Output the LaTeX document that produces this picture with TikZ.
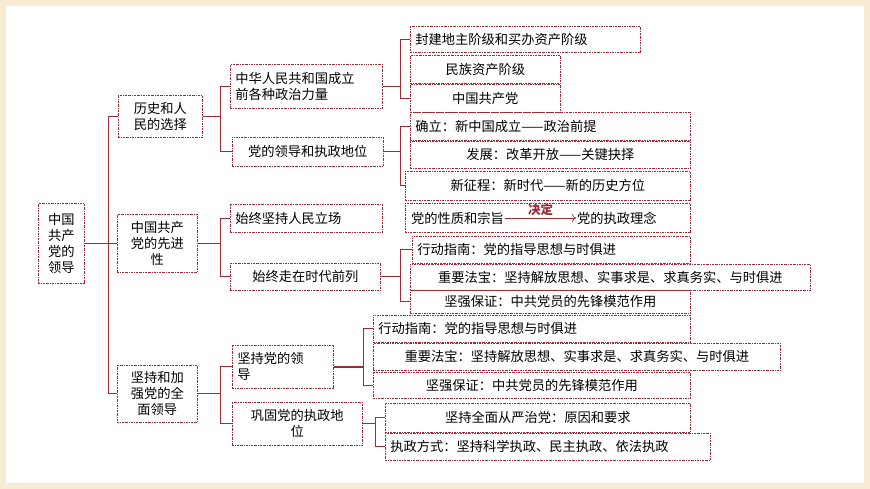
\documentclass[tikz,border=0pt]{standalone}
\usepackage{fontspec}
\usetikzlibrary{arrows.meta}
\newfontfamily\cjk{Noto Sans CJK SC}
\definecolor{dred}{HTML}{9E2A36}
\definecolor{cream}{HTML}{F7EBD3}
\tikzset{
 bx/.style={draw=dred, line width=0.6pt, dash pattern=on 2pt off 1pt on 0.6pt off 1pt, inner sep=0pt, font=\cjk\fontsize{13.3}{16}\selectfont, anchor=north west},
 ln/.style={draw=dred, line width=0.8pt},
}
\newcommand\bxn[7]{% name x y w h align text
 \pgfmathsetmacro\tw{#4-10}
 \node[bx, minimum width=#4bp, minimum height=#5bp, text width=\tw bp, align=#6] (#1) at (#2,#3) {#7};}
\begin{document}
\begin{tikzpicture}[x=1bp,y=-1bp]
\fill[cream] (0,0) rectangle (870,489);
\fill[white] (6,6) rectangle (864,483);
\useasboundingbox (0,0) rectangle (870,489);
\bxn{root}{38}{203}{46}{80}{center}{中国\\共产\\党的\\领导}
\bxn{a}{118}{95}{84}{42}{center}{历史和人\\民的选择}
\bxn{b}{117}{214}{80}{58}{center}{中国共产\\党的先进\\性}
\bxn{c}{117}{365}{80}{57}{center}{坚持和加\\强党的全\\面领导}
\bxn{a1}{230}{64}{152}{44}{left}{中华人民共和国成立\\前各种政治力量}
\bxn{a2}{232}{137}{151}{29}{center}{党的领导和执政地位}
\bxn{b1}{230}{204}{152}{28}{left}{始终坚持人民立场}
\bxn{b2}{230}{263}{150}{27}{center}{始终走在时代前列}
\bxn{c1}{232}{345}{101}{43}{left}{坚持党的领\\导}
\bxn{c2}{232}{402}{130}{43}{center}{巩固党的执政地\\位}
\bxn{a11}{410}{26}{230}{26}{left}{封建地主阶级和买办资产阶级}
\bxn{a12}{410}{55}{150}{28}{center}{民族资产阶级}
\bxn{a13}{410}{84}{150}{28}{center}{中国共产党}
\bxn{a21}{410}{112}{280}{28}{left}{确立：新中国成立——政治前提}
\bxn{a22}{410}{141}{280}{27}{center}{发展：改革开放——关键抉择}
\bxn{a23}{405}{171}{285}{29}{center}{新征程：新时代——新的历史方位}
\bxn{n}{405}{203}{285}{29}{left}{}
\node[font=\cjk\fontsize{13.3}{16}\selectfont, anchor=west, inner sep=1pt] (n1) at (410,218) {党的性质和宗旨};
\node[font=\cjk\fontsize{13.3}{16}\selectfont, anchor=west, inner sep=1pt] (n2) at (576,218) {党的执政理念};
\draw[dred, line width=0.7pt, -{To[length=4pt]}] (n1.east) -- node[above, text=dred, font=\cjk\bfseries\fontsize{12.5}{14}\selectfont, inner sep=1pt, yshift=1pt]{决定} (n2.west);
\bxn{b21}{412}{236}{278}{27}{left}{行动指南：党的指导思想与时俱进}
\bxn{b22}{410}{264}{400}{26}{center}{重要法宝：坚持解放思想、实事求是、求真务实、与时俱进}
\bxn{b23}{410}{290}{280}{23}{center}{坚强保证：中共党员的先锋模范作用}
\bxn{c11}{373}{315}{317}{27}{left}{行动指南：党的指导思想与时俱进}
\bxn{c12}{373}{343}{407}{27}{center}{重要法宝：坚持解放思想、实事求是、求真务实、与时俱进}
\bxn{c13}{373}{372}{317}{26}{center}{坚强保证：中共党员的先锋模范作用}
\bxn{c21}{385}{403}{305}{29}{center}{坚持全面从严治党：原因和要求}
\bxn{c22}{385}{433}{325}{27}{left}{执政方式：坚持科学执政、民主执政、依法执政}
% connectors
\coordinate (X0) at (108,0);
\draw[ln] (root.east) -- (root.east -| X0);
\draw[ln] (a.west) -- (a.west -| X0) -- (c.west -| X0) -- (c.west);
\draw[ln] (b.west) -- (b.west -| X0);
\coordinate (X1) at (220,0);
\draw[ln] (a.east) -- (a.east -| X1);
\draw[ln] (a1.west) -- (a1.west -| X1) -- (a2.west -| X1) -- (a2.west);
\draw[ln] (b.east) -- (b.east -| X1);
\draw[ln] (b1.west) -- (b1.west -| X1) -- (b2.west -| X1) -- (b2.west);
\draw[ln] (c.east) -- (c.east -| X1);
\draw[ln] (c1.west) -- (c1.west -| X1) -- (c2.west -| X1) -- (c2.west);
\coordinate (X2) at (400,0);
\draw[ln] (a1.east) -- (a1.east -| X2);
\draw[ln] (a11.west) -- (a11.west -| X2) -- (a13.west -| X2) -- (a13.west);
\draw[ln] (a2.east) -- (a2.east -| X2);
\draw[ln] (a21.west) -- (a21.west -| X2) -- (a23.west -| X2) -- (a23.west);
\draw[ln] (b2.east) -- (b2.east -| X2);
\draw[ln] (b21.west) -- (b21.west -| X2) -- (b23.west -| X2) -- (b23.west);
\coordinate (X3) at (363,0);
\draw[ln, line width=1.8pt] (c1.east) -- (c1.east -| X3);
\draw[ln] (c11.west) -- (c11.west -| X3) -- (c13.west -| X3) -- (c13.west);
\coordinate (X4) at (375,0);
\draw[ln] (c2.east) -- (c2.east -| X4);
\draw[ln] (c21.west) -- (c21.west -| X4) -- (c22.west -| X4) -- (c22.west);
\end{tikzpicture}
\end{document}
